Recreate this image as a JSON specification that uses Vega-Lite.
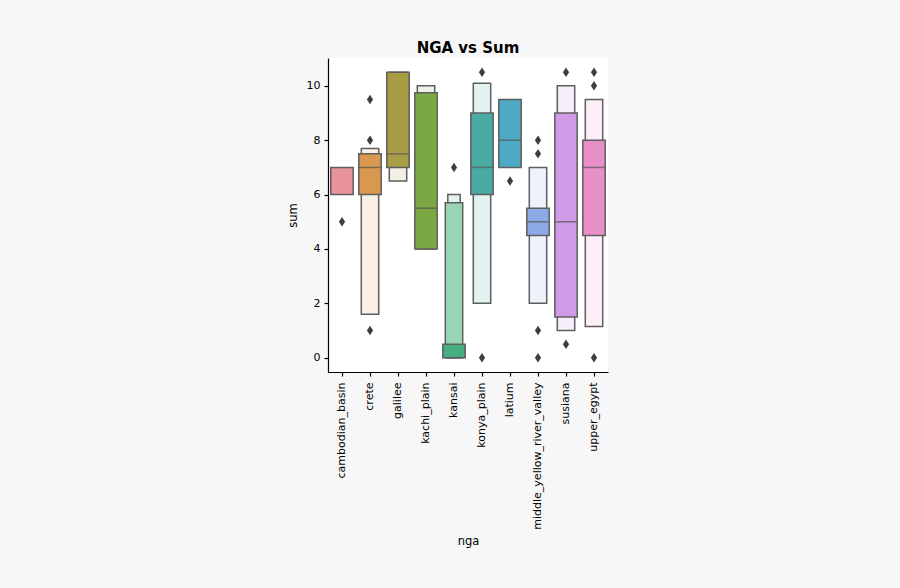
{
  "$schema": "https://vega.github.io/schema/vega-lite/v6.json",
  "autosize": "none",
  "width": 280,
  "height": 314,
  "padding": {"left": 328, "top": 58, "right": 292, "bottom": 216},
  "background": "#f7f7f7",
  "view": {"fill": "white", "stroke": null},
  "config": {
    "font": "DejaVu Sans",
    "axis": {"domainColor": "#000000", "tickColor": "#000000", "labelColor": "#000000", "titleColor": "#000000", "labelFontSize": 11, "titleFontSize": 11.5, "titleFontWeight": "normal", "tickSize": 4, "domainWidth": 1.2, "tickWidth": 1.2, "grid": false}
  },
  "title": {"text": "NGA vs Sum", "fontSize": 15, "fontWeight": "bold", "color": "#000000", "offset": 2},
  "datasets": {
    "boxes": [
      {"nga": "kansai", "level": 2, "box": "kansai 2", "lo": 0, "hi": 6.0},
      {"nga": "crete", "level": 1, "box": "crete 1", "lo": 1.6, "hi": 7.7},
      {"nga": "galilee", "level": 1, "box": "galilee 1", "lo": 6.5, "hi": 10.5},
      {"nga": "kachi_plain", "level": 1, "box": "kachi_plain 1", "lo": 4.0, "hi": 10.0},
      {"nga": "kansai", "level": 1, "box": "kansai 1", "lo": 0, "hi": 5.7},
      {"nga": "konya_plain", "level": 1, "box": "konya_plain 1", "lo": 2.0, "hi": 10.1},
      {"nga": "middle_yellow_river_valley", "level": 1, "box": "middle_yellow_river_valley 1", "lo": 2.0, "hi": 7.0},
      {"nga": "susiana", "level": 1, "box": "susiana 1", "lo": 1.0, "hi": 10.0},
      {"nga": "upper_egypt", "level": 1, "box": "upper_egypt 1", "lo": 1.15, "hi": 9.5},
      {"nga": "cambodian_basin", "level": 0, "box": "cambodian_basin 0", "lo": 6.0, "hi": 7.0},
      {"nga": "crete", "level": 0, "box": "crete 0", "lo": 6.0, "hi": 7.5},
      {"nga": "galilee", "level": 0, "box": "galilee 0", "lo": 7.0, "hi": 10.5},
      {"nga": "kachi_plain", "level": 0, "box": "kachi_plain 0", "lo": 4.0, "hi": 9.75},
      {"nga": "kansai", "level": 0, "box": "kansai 0", "lo": 0, "hi": 0.5},
      {"nga": "konya_plain", "level": 0, "box": "konya_plain 0", "lo": 6.0, "hi": 9.0},
      {"nga": "latium", "level": 0, "box": "latium 0", "lo": 7.0, "hi": 9.5},
      {"nga": "middle_yellow_river_valley", "level": 0, "box": "middle_yellow_river_valley 0", "lo": 4.5, "hi": 5.5},
      {"nga": "susiana", "level": 0, "box": "susiana 0", "lo": 1.5, "hi": 9.0},
      {"nga": "upper_egypt", "level": 0, "box": "upper_egypt 0", "lo": 4.5, "hi": 8.0}
    ],
    "medians": [
      {"nga": "crete", "median": 7.0},
      {"nga": "galilee", "median": 7.5},
      {"nga": "kachi_plain", "median": 5.5},
      {"nga": "konya_plain", "median": 7.0},
      {"nga": "latium", "median": 8.0},
      {"nga": "middle_yellow_river_valley", "median": 5.0},
      {"nga": "susiana", "median": 5.0},
      {"nga": "upper_egypt", "median": 7.0}
    ],
    "outliers": [
      {"nga": "cambodian_basin", "sum": 5},
      {"nga": "crete", "sum": 9.5},
      {"nga": "crete", "sum": 8},
      {"nga": "crete", "sum": 1},
      {"nga": "kansai", "sum": 7},
      {"nga": "konya_plain", "sum": 10.5},
      {"nga": "konya_plain", "sum": 0},
      {"nga": "latium", "sum": 6.5},
      {"nga": "middle_yellow_river_valley", "sum": 8},
      {"nga": "middle_yellow_river_valley", "sum": 7.5},
      {"nga": "middle_yellow_river_valley", "sum": 1},
      {"nga": "middle_yellow_river_valley", "sum": 0},
      {"nga": "susiana", "sum": 10.5},
      {"nga": "susiana", "sum": 0.5},
      {"nga": "upper_egypt", "sum": 10.5},
      {"nga": "upper_egypt", "sum": 10},
      {"nga": "upper_egypt", "sum": 0}
    ]
  },
  "encoding": {
    "x": {
      "field": "nga", "type": "nominal",
      "scale": {"domain": ["cambodian_basin", "crete", "galilee", "kachi_plain", "kansai", "konya_plain", "latium", "middle_yellow_river_valley", "susiana", "upper_egypt"], "paddingInner": 0, "paddingOuter": 0},
      "axis": {"labelAngle": -90, "labelAlign": "right", "labelBaseline": "middle", "labelPadding": 6, "title": "nga", "titlePadding": 6}
    }
  },
  "layer": [
    {
      "data": {"name": "boxes"},
      "mark": {"type": "bar", "stroke": "#5e5e5e", "strokeWidth": 1.5},
      "encoding": {
        "y": {"field": "lo", "type": "quantitative", "scale": {"domain": [-0.525, 11.025], "nice": false, "zero": false}, "axis": {"values": [0, 2, 4, 6, 8, 10], "title": "sum", "titlePadding": 8, "labelPadding": 4}},
        "y2": {"field": "hi"},
        "size": {"field": "level", "type": "ordinal", "scale": {"domain": [0, 1, 2], "range": [22.4, 12.4, 7.2]}, "legend": null},
        "color": {
          "field": "box", "type": "nominal", "legend": null,
          "scale": {
            "domain": ["cambodian_basin 0", "crete 0", "crete 1", "galilee 0", "galilee 1", "kachi_plain 0", "kachi_plain 1", "kansai 0", "kansai 1", "kansai 2", "konya_plain 0", "konya_plain 1", "latium 0", "middle_yellow_river_valley 0", "middle_yellow_river_valley 1", "susiana 0", "susiana 1", "upper_egypt 0", "upper_egypt 1"],
            "range": ["#e8939d", "#d8984f", "#faf0e7", "#a89c44", "#f3f1e6", "#7ba843", "#ebf3e4", "#46ae80", "#98d4b6", "#e4f3eb", "#4aaba3", "#e3f3f1", "#4eaac4", "#8eaae6", "#eef2fb", "#d09ae6", "#f7eefb", "#e88fc8", "#fbeef6"]
          }
        }
      }
    },
    {
      "data": {"name": "medians"},
      "mark": {"type": "tick", "color": "#555555", "opacity": 0.7, "thickness": 1.5, "size": 22},
      "encoding": {
        "y": {"field": "median", "type": "quantitative"}
      }
    },
    {
      "data": {"name": "outliers"},
      "mark": {"type": "point", "shape": "M0,-1L0.65,0L0,1L-0.65,0Z", "filled": true, "color": "#3d3d3d", "opacity": 1, "size": 90},
      "encoding": {
        "y": {"field": "sum", "type": "quantitative"}
      }
    }
  ]
}
